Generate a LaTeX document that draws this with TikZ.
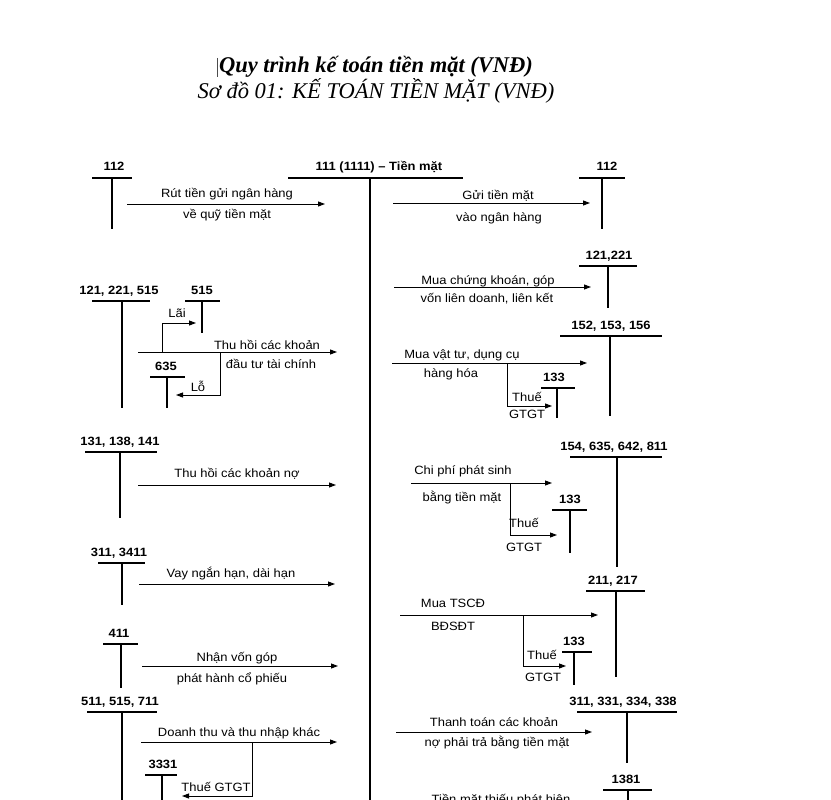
\documentclass[tikz,border=0pt]{standalone}
\usepackage{fontspec}
\usetikzlibrary{arrows.meta}
\newfontfamily\lblfont[FakeStretch=1.08]{Liberation Sans}
\newfontfamily\ttlfont{Liberation Serif}
\tikzset{
  x=1pt, y=-1pt,
  lbl/.style={font=\lblfont\fontsize{12}{14}\selectfont, inner sep=0pt, anchor=base},
  acct/.style={font=\lblfont\bfseries\fontsize{12}{14}\selectfont, inner sep=0pt, anchor=base},
  tline/.style={line width=1.2pt, draw=black},
  arr/.style={line width=0.9pt, draw=black, -{Triangle[length=7pt,width=5pt]}},
}
% #1 name, #2 text, #3 x left, #4 x right, #5 y of line, #6 x of stem, #7 y of stem end, #8 x of text
\newcommand\taccount[8]{%
  \node[acct] (#1) at (#8,#5-7) {#2};
  \coordinate (#1-l) at (#3,#5);
  \coordinate (#1-r) at (#4,#5);
  \coordinate (#1-t) at (#6,#5);
  \coordinate (#1-b) at (#6,#7);
  \draw[tline] (#1-l) -- (#1-r);
  \draw[tline] (#1-t) -- (#1-b);
}
\begin{document}
\begin{tikzpicture}
\useasboundingbox (0,0) rectangle (831,800);
\fill[white] (0,0) rectangle (831,800);
\clip (0,0) rectangle (831,800);

% title
\node[inner sep=0pt, anchor=base, font=\ttlfont\bfseries\itshape\fontsize{22.5}{26}\selectfont] (title1) at (376,73) {Quy trình kế toán tiền mặt (VNĐ)};
\node[inner sep=0pt, anchor=base, font=\ttlfont\itshape\fontsize{22.5}{26}\selectfont] (title2) at (376,99) {Sơ đồ 01: KẾ TOÁN TIỀN MẶT (VNĐ)};
\coordinate (cur1) at (217,58); \coordinate (cur2) at (217,77);
\draw[line width=0.6pt, black!70] (cur1) -- (cur2);

% T accounts
\taccount{a111}{111 (1111) – Tiền mặt}{288}{463}{178}{370}{810}{379}
\taccount{a112L}{112}{92}{132}{178}{112}{229}{114}
\taccount{a112R}{112}{579}{625}{178}{602}{229}{607}
\taccount{a121R}{121,221}{579}{637}{266}{608}{308}{609}
\taccount{a121L}{121, 221, 515}{92}{150}{301}{122}{408}{119}
\taccount{a515}{515}{185}{220}{301}{202}{333}{202}
\taccount{a635}{635}{150}{185}{377}{167}{408}{166}
\taccount{a152}{152, 153, 156}{560}{662}{336}{610}{416}{611}
\taccount{a133a}{133}{541}{575}{388}{557}{418}{554}
\taccount{a131}{131, 138, 141}{85}{157}{452}{120}{518}{120}
\taccount{a154}{154, 635, 642, 811}{570}{662}{457}{617}{567}{614}
\taccount{a133b}{133}{552}{587}{510}{570}{553}{570}
\taccount{a311}{311, 3411}{98}{145}{563}{122}{605}{119}
\taccount{a211}{211, 217}{586}{645}{591}{616}{677}{613}
\taccount{a133c}{133}{562}{592}{652}{574}{685}{574}
\taccount{a411}{411}{103}{138}{644}{121}{688}{119}
\taccount{a511}{511, 515, 711}{87}{157}{712}{122}{810}{120}
\taccount{a311R}{311, 331, 334, 338}{577}{677}{712}{627}{763}{623}
\taccount{a3331}{3331}{145}{177}{775}{162}{810}{163}
\taccount{a1381}{1381}{603}{652}{790}{628}{810}{626}

% arrows
\coordinate (r1s) at (127,204); \coordinate (r1e) at (325,204);
\draw[arr] (r1s) -- (r1e);
\node[lbl] (l1a) at (227,197) {Rút tiền gửi ngân hàng};
\node[lbl] (l1b) at (227,218) {về quỹ tiền mặt};

\coordinate (r2s) at (393,203); \coordinate (r2e) at (590,203);
\draw[arr] (r2s) -- (r2e);
\node[lbl] (l2a) at (498,199) {Gửi tiền mặt};
\node[lbl] (l2b) at (499,221) {vào ngân hàng};

\coordinate (r3s) at (394,287); \coordinate (r3e) at (591,287);
\draw[arr] (r3s) -- (r3e);
\node[lbl] (l3a) at (488,284) {Mua chứng khoán, góp};
\node[lbl] (l3b) at (487,302) {vốn liên doanh, liên kết};

\coordinate (r4s) at (138,352); \coordinate (r4e) at (337,352);
\draw[arr] (r4s) -- (r4e);
\coordinate (b4a) at (162,352); \coordinate (b4b) at (196,323);
\draw[arr] (b4a) |- (b4b);
\coordinate (b4c) at (220,352); \coordinate (b4d) at (176,395);
\draw[arr] (b4c) |- (b4d);
\node[lbl] (l4a) at (267,349) {Thu hồi các khoản};
\node[lbl] (l4b) at (271,368) {đầu tư tài chính};
\node[lbl] (l4c) at (177,317) {Lãi};
\node[lbl] (l4d) at (198,391) {Lỗ};

\coordinate (r5s) at (392,363); \coordinate (r5e) at (587,363);
\draw[arr] (r5s) -- (r5e);
\coordinate (b5a) at (507,363); \coordinate (b5b) at (552,406);
\draw[arr] (b5a) |- (b5b);
\node[lbl] (l5a) at (462,358) {Mua vật tư, dụng cụ};
\node[lbl] (l5b) at (451,377) {hàng hóa};
\node[lbl] (l5c) at (527,401) {Thuế};
\node[lbl] (l5d) at (527,418) {GTGT};

\coordinate (r6s) at (138,485); \coordinate (r6e) at (336,485);
\draw[arr] (r6s) -- (r6e);
\node[lbl] (l6a) at (237,477) {Thu hồi các khoản nợ};

\coordinate (r7s) at (411,483); \coordinate (r7e) at (552,483);
\draw[arr] (r7s) -- (r7e);
\coordinate (b7a) at (510,483); \coordinate (b7b) at (557,535);
\draw[arr] (b7a) |- (b7b);
\node[lbl] (l7a) at (463,474) {Chi phí phát sinh};
\node[lbl] (l7b) at (462,501) {bằng tiền mặt};
\node[lbl] (l7c) at (524,527) {Thuế};
\node[lbl] (l7d) at (524,551) {GTGT};

\coordinate (r8s) at (139,584); \coordinate (r8e) at (335,584);
\draw[arr] (r8s) -- (r8e);
\node[lbl] (l8a) at (231,577) {Vay ngắn hạn, dài hạn};

\coordinate (r9s) at (400,615); \coordinate (r9e) at (598,615);
\draw[arr] (r9s) -- (r9e);
\coordinate (b9a) at (523,615); \coordinate (b9b) at (566,666);
\draw[arr] (b9a) |- (b9b);
\node[lbl] (l9a) at (453,607) {Mua TSCĐ};
\node[lbl] (l9b) at (453,630) {BĐSĐT};
\node[lbl] (l9c) at (542,659) {Thuế};
\node[lbl] (l9d) at (543,681) {GTGT};

\coordinate (r10s) at (142,666); \coordinate (r10e) at (338,666);
\draw[arr] (r10s) -- (r10e);
\node[lbl] (l10a) at (237,661) {Nhận vốn góp};
\node[lbl] (l10b) at (232,682) {phát hành cổ phiếu};

\coordinate (r11s) at (141,742); \coordinate (r11e) at (337,742);
\draw[arr] (r11s) -- (r11e);
\coordinate (b11a) at (252,742); \coordinate (b11b) at (182,796);
\draw[arr] (b11a) |- (b11b);
\node[lbl] (l11a) at (239,736) {Doanh thu và thu nhập khác};
\node[lbl] (l11b) at (216,791) {Thuế GTGT};

\coordinate (r12s) at (396,732); \coordinate (r12e) at (592,732);
\draw[arr] (r12s) -- (r12e);
\node[lbl] (l12a) at (494,726) {Thanh toán các khoản};
\node[lbl] (l12b) at (497,746) {nợ phải trả bằng tiền mặt};
\node[lbl] (l13a) at (501,803) {Tiền mặt thiếu phát hiện};
\end{tikzpicture}
\end{document}
